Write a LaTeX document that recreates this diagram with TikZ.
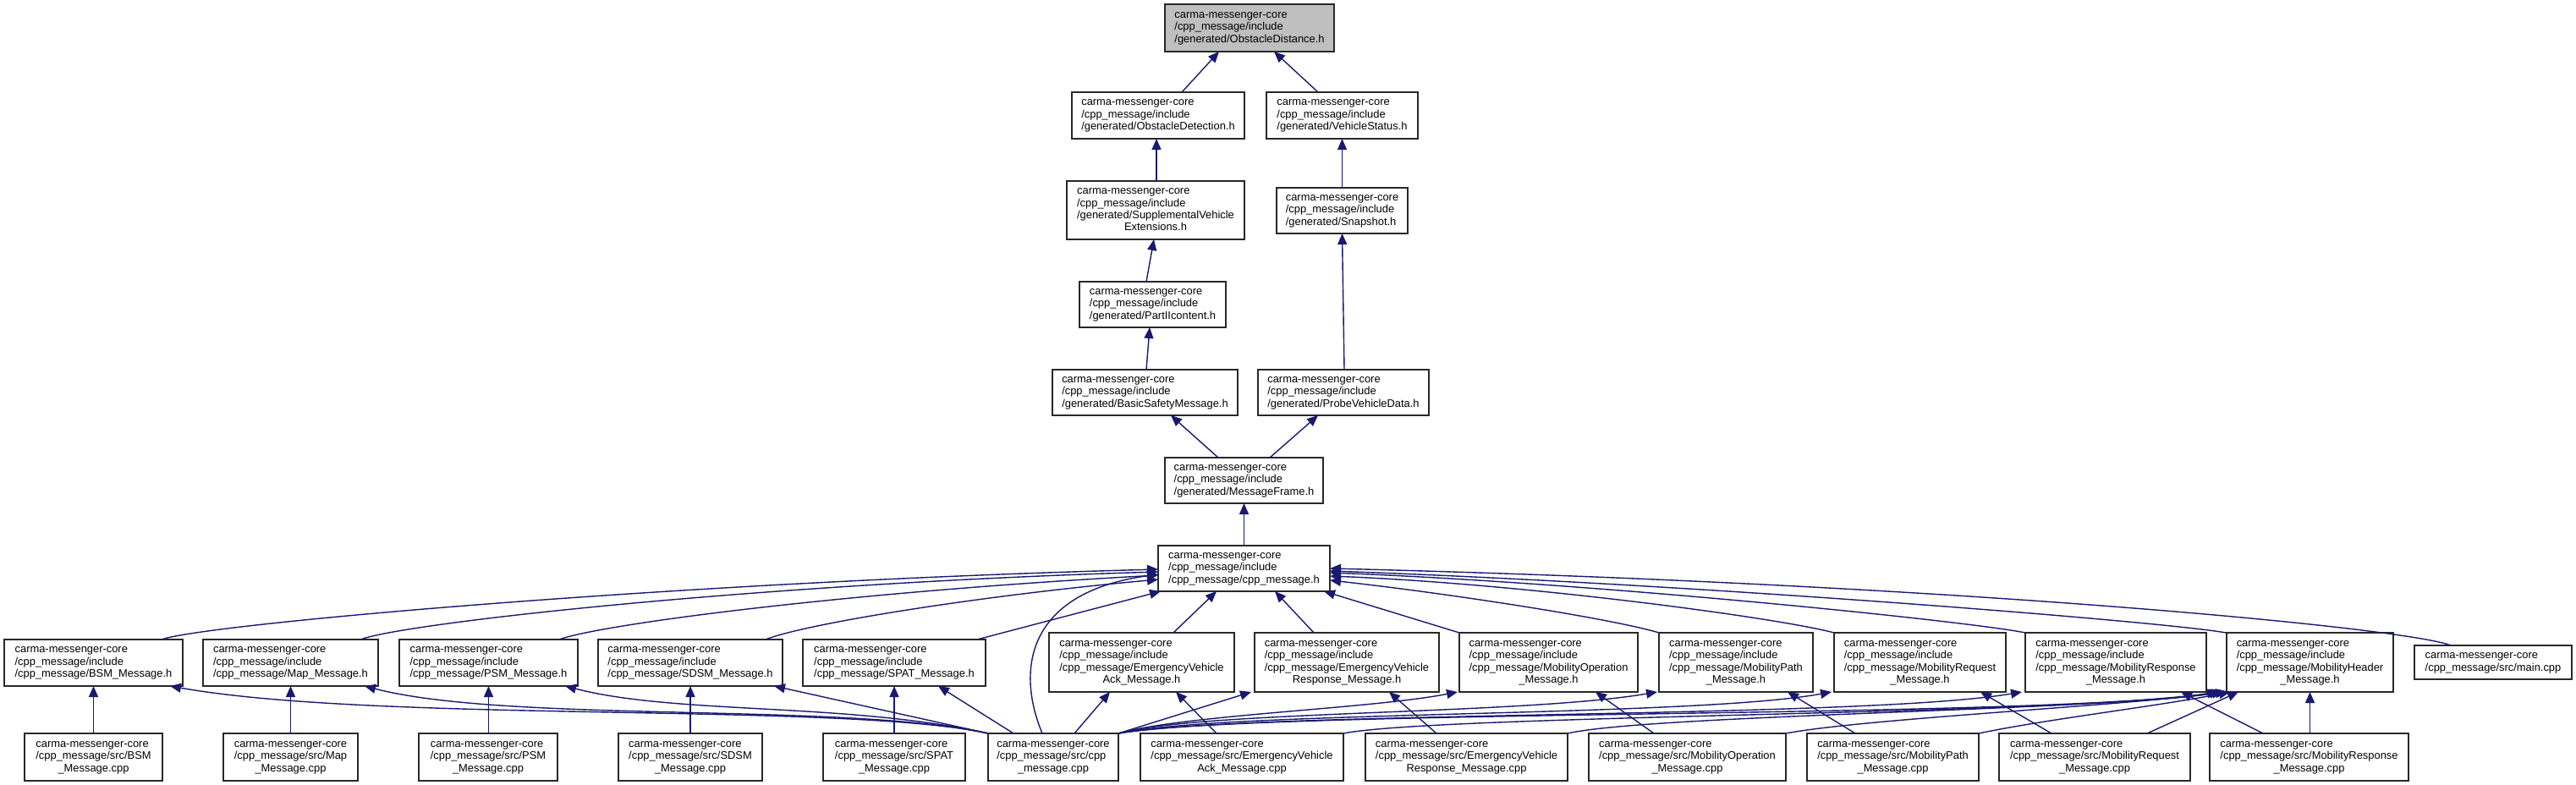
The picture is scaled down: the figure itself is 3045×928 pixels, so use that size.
\documentclass[tikz,border=0pt]{standalone}
\usepackage{fontspec}
\setmainfont{Liberation Sans}
\usetikzlibrary{arrows.meta}
\definecolor{edgeblue}{RGB}{25,25,112}
\definecolor{boxline}{RGB}{40,40,40}
\definecolor{topfill}{RGB}{191,191,191}
\newcommand\lns[1]{\begin{tabular}{@{}l@{}}#1\end{tabular}}
\newcommand\cln[1]{\multicolumn{1}{@{}c@{}}{#1}}
\newcommand\cmc{carma-messenger-core}
\begin{document}
\begin{tikzpicture}[x=1pt,y=-1pt,
  box/.style={draw=boxline, line width=1.6pt, fill=white, inner sep=0pt, outer sep=0pt,
    font=\fontsize{12.9}{14.4}\selectfont, text=black},
  dep/.style={draw=edgeblue, line width=1.4pt, -{Triangle[length=13pt,width=11pt]}},
]
\useasboundingbox (0,0) rectangle (3045,928);
% ---- upper chain
\node[box, fill=topfill, minimum width=200pt, minimum height=56pt] (od) at (1477,33) {\lns{\cmc\\/cpp\_message/include\\/generated/ObstacleDistance.h}};
\node[box, minimum width=204pt, minimum height=55pt] (odet) at (1369,136.5) {\lns{\cmc\\/cpp\_message/include\\/generated/ObstacleDetection.h}};
\node[box, minimum width=179pt, minimum height=55pt] (vs) at (1586.5,136.5) {\lns{\cmc\\/cpp\_message/include\\/generated/VehicleStatus.h}};
\node[box, minimum width=210pt, minimum height=69pt] (sve) at (1366,248.5) {\lns{\cmc\\/cpp\_message/include\\/generated/SupplementalVehicle\\\cln{Extensions.h}}};
\node[box, minimum width=155pt, minimum height=54pt] (snap) at (1586.5,249) {\lns{\cmc\\/cpp\_message/include\\/generated/Snapshot.h}};
\node[box, minimum width=173pt, minimum height=54pt] (p2) at (1362.5,360) {\lns{\cmc\\/cpp\_message/include\\/generated/PartIIcontent.h}};
\node[box, minimum width=219pt, minimum height=54pt] (bsmg) at (1353.5,464) {\lns{\cmc\\/cpp\_message/include\\/generated/BasicSafetyMessage.h}};
\node[box, minimum width=202pt, minimum height=54pt] (pvd) at (1588,464) {\lns{\cmc\\/cpp\_message/include\\/generated/ProbeVehicleData.h}};
\node[box, minimum width=187pt, minimum height=54pt] (mf) at (1470.5,568) {\lns{\cmc\\/cpp\_message/include\\/generated/MessageFrame.h}};
\node[box, minimum width=203pt, minimum height=54pt] (cpph) at (1470.5,672) {\lns{\cmc\\/cpp\_message/include\\/cpp\_message/cpp\_message.h}};
% ---- header row
\node[box, minimum width=211pt, minimum height=55pt] (bsmh) at (110.5,783.5) {\lns{\cmc\\/cpp\_message/include\\/cpp\_message/BSM\_Message.h}};
\node[box, minimum width=207pt, minimum height=55pt] (maph) at (343.5,783.5) {\lns{\cmc\\/cpp\_message/include\\/cpp\_message/Map\_Message.h}};
\node[box, minimum width=211pt, minimum height=55pt] (psmh) at (577.5,783.5) {\lns{\cmc\\/cpp\_message/include\\/cpp\_message/PSM\_Message.h}};
\node[box, minimum width=218pt, minimum height=55pt] (sdsmh) at (816,783.5) {\lns{\cmc\\/cpp\_message/include\\/cpp\_message/SDSM\_Message.h}};
\node[box, minimum width=216pt, minimum height=55pt] (spath) at (1057,783.5) {\lns{\cmc\\/cpp\_message/include\\/cpp\_message/SPAT\_Message.h}};
\node[box, minimum width=219pt, minimum height=70pt] (evackh) at (1349.5,783) {\lns{\cmc\\/cpp\_message/include\\/cpp\_message/EmergencyVehicle\\\cln{Ack\_Message.h}}};
\node[box, minimum width=218pt, minimum height=70pt] (evresph) at (1592,783) {\lns{\cmc\\/cpp\_message/include\\/cpp\_message/EmergencyVehicle\\\cln{Response\_Message.h}}};
\node[box, minimum width=211pt, minimum height=70pt] (mobop) at (1830.5,783) {\lns{\cmc\\/cpp\_message/include\\/cpp\_message/MobilityOperation\\\cln{\_Message.h}}};
\node[box, minimum width=182pt, minimum height=70pt] (mobpath) at (2052,783) {\lns{\cmc\\/cpp\_message/include\\/cpp\_message/MobilityPath\\\cln{\_Message.h}}};
\node[box, minimum width=203pt, minimum height=70pt] (mobreq) at (2269.5,783) {\lns{\cmc\\/cpp\_message/include\\/cpp\_message/MobilityRequest\\\cln{\_Message.h}}};
\node[box, minimum width=214pt, minimum height=70pt] (mobresp) at (2501,783) {\lns{\cmc\\/cpp\_message/include\\/cpp\_message/MobilityResponse\\\cln{\_Message.h}}};
\node[box, minimum width=197pt, minimum height=70pt] (mobhdr) at (2730.5,783) {\lns{\cmc\\/cpp\_message/include\\/cpp\_message/MobilityHeader\\\cln{\_Message.h}}};
\node[box, minimum width=186pt, minimum height=40pt] (main) at (2947,783) {\lns{\cmc\\/cpp\_message/src/main.cpp}};
% ---- source row
\node[box, minimum width=163pt, minimum height=56pt] (bsmc) at (110.5,895) {\lns{\cmc\\/cpp\_message/src/BSM\\\cln{\_Message.cpp}}};
\node[box, minimum width=159pt, minimum height=56pt] (mapc) at (343.5,895) {\lns{\cmc\\/cpp\_message/src/Map\\\cln{\_Message.cpp}}};
\node[box, minimum width=164pt, minimum height=56pt] (psmc) at (577,895) {\lns{\cmc\\/cpp\_message/src/PSM\\\cln{\_Message.cpp}}};
\node[box, minimum width=170pt, minimum height=56pt] (sdsmc) at (816,895) {\lns{\cmc\\/cpp\_message/src/SDSM\\\cln{\_Message.cpp}}};
\node[box, minimum width=168pt, minimum height=56pt] (spatc) at (1057,895) {\lns{\cmc\\/cpp\_message/src/SPAT\\\cln{\_Message.cpp}}};
\node[box, minimum width=154pt, minimum height=56pt] (cppc) at (1245,895) {\lns{\cmc\\/cpp\_message/src/cpp\\\cln{\_message.cpp}}};
\node[box, minimum width=240pt, minimum height=56pt] (evackc) at (1468,895) {\lns{\cmc\\/cpp\_message/src/EmergencyVehicle\\\cln{Ack\_Message.cpp}}};
\node[box, minimum width=239pt, minimum height=56pt] (evrespc) at (1733.5,895) {\lns{\cmc\\/cpp\_message/src/EmergencyVehicle\\\cln{Response\_Message.cpp}}};
\node[box, minimum width=233pt, minimum height=56pt] (mobopc) at (1994.5,895) {\lns{\cmc\\/cpp\_message/src/MobilityOperation\\\cln{\_Message.cpp}}};
\node[box, minimum width=203pt, minimum height=56pt] (mobpathc) at (2237.5,895) {\lns{\cmc\\/cpp\_message/src/MobilityPath\\\cln{\_Message.cpp}}};
\node[box, minimum width=226pt, minimum height=56pt] (mobreqc) at (2476,895) {\lns{\cmc\\/cpp\_message/src/MobilityRequest\\\cln{\_Message.cpp}}};
\node[box, minimum width=235pt, minimum height=56pt] (mobrespc) at (2729.5,895) {\lns{\cmc\\/cpp\_message/src/MobilityResponse\\\cln{\_Message.cpp}}};
% ---- upper edges
\draw[dep] ([xshift=28pt]odet.north) -- ([xshift=-36pt]od.south);
\draw[dep] ([xshift=-28.5pt]vs.north) -- ([xshift=29pt]od.south);
\draw[dep] ([xshift=1pt]sve.north) -- ([xshift=-2pt]odet.south);
\draw[dep] (snap.north) -- (vs.south);
\draw[dep] ([xshift=-7.5pt]p2.north) -- ([xshift=-2pt]sve.south);
\draw[dep] ([xshift=1.5pt]bsmg.north) -- ([xshift=-3.5pt]p2.south);
\draw[dep] ([xshift=1pt]pvd.north) -- (snap.south);
\draw[dep] ([xshift=-30.5pt]mf.north) -- ([xshift=30.5pt]bsmg.south);
\draw[dep] ([xshift=30.5pt]mf.north) -- ([xshift=-30pt]pvd.south);
\draw[dep] (cpph.north) -- (mf.south);
% ---- headers to cpp_message.h
\draw[dep] ([xshift=80.5pt]bsmh.north) .. controls (240,738) and (800,688) .. ([yshift=-1pt]cpph.west);
\draw[dep] ([xshift=82.5pt]maph.north) .. controls (480,736) and (900,690) .. ([yshift=-4pt]cpph.west);
\draw[dep] ([xshift=83.5pt]psmh.north) .. controls (710,738) and (1000,700) .. ([yshift=-8pt]cpph.west);
\draw[dep] ([xshift=89pt]sdsmh.north) .. controls (950,738) and (1150,705) .. ([yshift=-13pt]cpph.west);
\draw[dep] ([xshift=98pt]spath.north) -- ([xshift=3pt]cpph.south west);
\draw[dep] ([xshift=-13pt]cppc.north) .. controls (1200,790) and (1215,700) .. ([yshift=-7pt]cpph.west);
\draw[dep] ([xshift=37.5pt]evackh.north) -- ([xshift=-32.5pt]cpph.south);
\draw[dep] ([xshift=-39pt]evresph.north) -- ([xshift=36.5pt]cpph.south);
\draw[dep] (mobop.north west) -- ([xshift=-7pt]cpph.south east);
\draw[dep] (mobpath.north west) .. controls (1900,730) and (1700,700) .. ([yshift=-14pt]cpph.east);
\draw[dep] (mobreq.north west) .. controls (2100,730) and (1800,690) .. ([yshift=-9pt]cpph.east);
\draw[dep] (mobresp.north west) .. controls (2330,735) and (1900,690) .. ([yshift=-5pt]cpph.east);
\draw[dep] ([xshift=-1pt]mobhdr.north west) .. controls (2560,735) and (2000,690) .. ([yshift=-3pt]cpph.east);
\draw[dep] ([xshift=-50pt]main.north) .. controls (2845,742) and (2300,690) .. (cpph.east);
% ---- sources to headers
\draw[dep] (bsmc.north) -- (bsmh.south);
\draw[dep] (mapc.north) -- (maph.south);
\draw[dep] ([xshift=0.5pt]psmc.north) -- (psmh.south);
\draw[dep] (sdsmc.north) -- (sdsmh.south);
\draw[dep] (spatc.north) -- (spath.south);
\draw[dep] ([xshift=-30pt]evackc.north) -- ([xshift=40.5pt]evackh.south);
\draw[dep] ([xshift=-35.5pt]evrespc.north) -- ([xshift=50pt]evresph.south);
\draw[dep] ([xshift=-39.5pt]mobopc.north) -- ([xshift=55.5pt]mobop.south);
\draw[dep] ([xshift=-44.5pt]mobpathc.north) -- ([xshift=61pt]mobpath.south);
\draw[dep] ([xshift=-51pt]mobreqc.north) -- ([xshift=71.5pt]mobreq.south);
\draw[dep] ([xshift=-54.5pt]mobrespc.north) -- ([xshift=77pt]mobresp.south);
\draw[dep] ([xshift=1pt]mobrespc.north) -- (mobhdr.south);
\draw[dep] ([xshift=62pt]mobreqc.north) -- ([xshift=-84.5pt]mobhdr.south);
% ---- cpp_message.cpp to headers
\draw[dep] (cppc.north west) .. controls (1000,830) and (450,855) .. ([xshift=90.5pt]bsmh.south);
\draw[dep] (cppc.north west) .. controls (1000,830) and (600,855) .. ([xshift=87.5pt]maph.south);
\draw[dep] (cppc.north west) .. controls (1000,830) and (800,845) .. ([xshift=90.5pt]psmh.south);
\draw[dep] (cppc.north west) -- ([xshift=99pt]sdsmh.south);
\draw[dep] ([xshift=-47pt]cppc.north) -- ([xshift=52pt]spath.south);
\draw[dep] ([xshift=25pt]cppc.north) -- ([xshift=-37.5pt]evackh.south);
\draw[dep] (cppc.north east) -- ([xshift=-113pt]evresph.south);
\draw[dep] (cppc.north east) .. controls (1400,845) and (1620,838) .. ([xshift=-2pt]mobop.south west);
\draw[dep] (cppc.north east) .. controls (1420,840) and (1800,845) .. ([xshift=-2pt]mobpath.south west);
\draw[dep] (cppc.north east) .. controls (1450,840) and (2000,848) .. ([xshift=-3pt]mobreq.south west);
\draw[dep] (cppc.north east) .. controls (1480,840) and (2200,850) .. ([xshift=-4pt]mobresp.south west);
\draw[dep] (cppc.north east) .. controls (1500,838) and (2400,850) .. ([xshift=-10pt]mobhdr.south west);
% ---- other sources to MobilityHeader
\draw[dep] (evackc.north east) .. controls (1700,845) and (2450,845) .. ([xshift=-7pt]mobhdr.south west);
\draw[dep] (evrespc.north east) .. controls (1950,845) and (2480,840) .. ([xshift=-4pt]mobhdr.south west);
\draw[dep] (mobopc.north east) .. controls (2200,850) and (2500,835) .. (mobhdr.south west);
\draw[dep] (mobpathc.north east) .. controls (2420,850) and (2550,835) .. ([xshift=4pt]mobhdr.south west);
\end{tikzpicture}
\end{document}
